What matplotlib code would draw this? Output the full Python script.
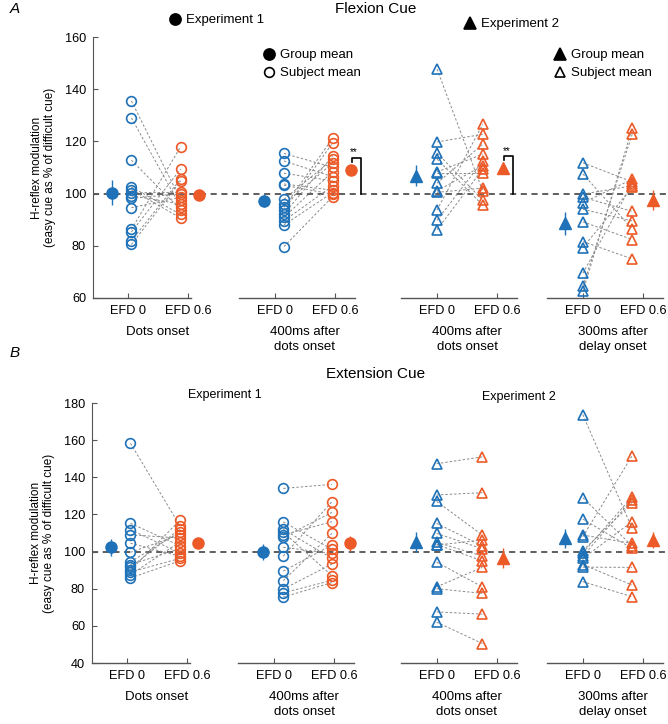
import matplotlib
matplotlib.use("Agg")
import matplotlib.pyplot as plt
from matplotlib.lines import Line2D

plt.rcParams["font.family"] = ["Liberation Sans", "DejaVu Sans"]

BLUE = "#1f72b8"
ORANGE = "#ec5a28"

# x layout: EFD 0 / EFD 0.6 in each group
group_offsets = [0.0, 2.45, 5.15, 7.58]
tick_labels = ["EFD 0", "EFD 0.6"]
group_names = ["Dots onset", "400ms after\ndots onset",
               "400ms after\ndots onset", "300ms after\ndelay onset"]
group_markers = ["o", "o", "^", "^"]
# horizontal placement of subject / group-mean markers relative to the ticks
subj_shift = [(0.06, -0.12), (0.15, -0.04), (0.0, -0.24), (0.0, -0.18)]
mean_shift = [(-0.26, 0.19), (-0.18, 0.26), (-0.35, 0.10), (-0.30, 0.17)]

# ---- Panel A: flexion cue (subject means, paired by index) ----
flex_efd0 = [
    [135.5, 129.0, 112.8, 102.5, 101.5, 100.3, 99.2, 98.2, 94.6, 86.3, 85.3, 82.0, 80.5],
    [115.4, 112.5, 107.8, 103.7, 103.2, 97.8, 96.0, 94.7, 93.7, 92.2, 90.9, 89.6, 88.0, 79.7],
    [147.7, 119.8, 115.6, 113.2, 108.3, 108.0, 104.0, 101.0, 100.5, 93.7, 89.8, 86.2],
    [111.8, 107.5, 99.8, 98.6, 96.5, 94.0, 89.2, 81.6, 79.3, 69.5, 64.5, 62.5],
]
flex_efd06 = [
    [97.6, 95.0, 93.8, 92.0, 90.6, 100.5, 96.0, 99.9, 98.6, 118.0, 109.4, 105.6, 104.9],
    [110.1, 106.5, 104.9, 101.3, 99.8, 113.1, 111.6, 121.2, 119.3, 114.4, 108.4, 102.9, 100.4, 98.8],
    [101.0, 122.7, 97.5, 95.6, 115.1, 108.0, 118.9, 110.7, 102.1, 126.5, 112.5, 109.3],
    [104.5, 86.5, 103.0, 93.2, 105.5, 89.5, 82.4, 75.0, 102.5, 103.8, 122.7, 125.0],
]
flex_mean0 = [100.3, 97.3, 106.9, 88.6]
flex_err0 = [4.8, 2.6, 4.0, 4.5]
flex_mean06 = [99.5, 109.2, 109.7, 97.6]
flex_err06 = [1.5, 1.2, 1.8, 3.8]
flex_sig = [False, True, True, False]

# ---- Panel B: extension cue ----
ext_efd0 = [
    [158.3, 115.2, 111.8, 109.0, 104.5, 99.6, 94.5, 93.0, 91.5, 90.0, 89.0, 87.5, 85.8],
    [134.0, 116.0, 112.0, 110.4, 109.0, 107.7, 102.3, 97.5, 89.5, 84.3, 79.8, 77.8, 75.5],
    [147.3, 130.5, 127.0, 115.2, 109.8, 105.0, 103.8, 103.5, 94.3, 81.0, 80.0, 67.5, 62.0],
    [173.8, 129.0, 117.5, 108.9, 108.0, 100.5, 99.3, 97.5, 96.3, 93.0, 91.6, 83.8],
]
ext_efd06 = [
    [114.0, 103.2, 99.2, 107.3, 97.5, 109.0, 110.5, 101.5, 112.2, 116.8, 96.3, 105.2, 95.0],
    [136.2, 101.2, 96.3, 87.0, 116.1, 121.1, 99.0, 126.9, 103.5, 109.8, 93.3, 84.5, 83.3],
    [151.0, 131.7, 108.9, 103.0, 101.5, 97.6, 95.0, 106.2, 81.0, 91.5, 77.5, 66.3, 50.5],
    [112.5, 103.0, 101.7, 104.4, 151.6, 126.0, 129.5, 128.0, 116.1, 82.0, 91.5, 75.7],
]
ext_mean0 = [102.3, 99.8, 105.3, 107.1]
ext_err0 = [4.5, 4.5, 5.5, 5.0]
ext_mean06 = [104.8, 104.4, 96.6, 106.2]
ext_err06 = [1.2, 4.0, 5.5, 4.2]
ext_sig = [False, False, False, False]


def fx(px):
    return px / 668.0


def fy(py):
    return 1 - py / 724.0


def draw_panel(ax, efd0, efd06, mean0, err0, mean06, err06, sig, ylim, yticks):
    xmin, xmax = -0.58, 8.98
    ax.set_xlim(xmin, xmax)
    ax.set_ylim(*ylim)
    ax.set_yticks(yticks)
    ax.axhline(100, color="#333333", lw=1.1, ls=(0, (4, 3)), zorder=1)

    for g, off in enumerate(group_offsets):
        mk = group_markers[g]
        xb, xo = off + subj_shift[g][0], off + 1 + subj_shift[g][1]
        mb, mo = off + mean_shift[g][0], off + 1 + mean_shift[g][1]
        for a, b in zip(efd0[g], efd06[g]):
            ax.plot([xb, xo], [a, b], color="#8a8a8a", lw=0.7,
                    ls=(0, (2.5, 2)), zorder=2)
        ax.plot([xb] * len(efd0[g]), efd0[g], ls="none", marker=mk, ms=7,
                mfc="none", mec=BLUE, mew=1.2, zorder=3)
        ax.plot([xo] * len(efd06[g]), efd06[g], ls="none", marker=mk, ms=7,
                mfc="none", mec=ORANGE, mew=1.2, zorder=3)
        ax.errorbar(mb, mean0[g], yerr=err0[g], fmt=mk, color=BLUE,
                    ms=8, elinewidth=1.0, capsize=0, zorder=4)
        ax.errorbar(mo, mean06[g], yerr=err06[g], fmt=mk, color=ORANGE,
                    ms=8, elinewidth=1.0, capsize=0, zorder=4)
        if sig[g]:
            top = mean06[g] + 4.6
            xl, xr = mo + 0.02, mo + 0.17
            ax.plot([xl, xl, xr, xr], [top - 1.6, top, top, 100],
                    color="black", lw=1.2, zorder=4)
            ax.text(xl + 0.04, top + 0.2, "**", ha="center",
                    va="bottom", fontsize=7)

        # bottom axis segment for the group
        left = xmin if g == 0 else off - 0.6
        right = off + 1.05 if g == 0 else off + 1.33
        ax.plot([left, right], [0, 0], color="#555555", lw=1.0,
                transform=ax.get_xaxis_transform(), clip_on=False)
        ax.annotate(group_names[g], xy=(off + 0.5, 0),
                    xycoords=("data", "axes fraction"), xytext=(0, -20),
                    textcoords="offset points", ha="center", va="top",
                    fontsize=9.5, linespacing=1.4)

    ticks = [o + d for o in group_offsets for d in (0, 1)]
    ax.set_xticks(ticks, tick_labels * len(group_offsets))
    ax.tick_params(direction="in", length=3.5, labelsize=9.2, color="#555555",
                   pad=5)
    for s in ("top", "right", "bottom"):
        ax.spines[s].set_visible(False)
    ax.spines["left"].set_color("#555555")
    ax.set_ylabel("H-reflex modulation\n(easy cue as % of difficult cue)",
                  fontsize=8.5, labelpad=6, linespacing=1.15)


fig = plt.figure(figsize=(6.68, 7.24), dpi=100)

axA = fig.add_axes([fx(93), fy(298), fx(667) - fx(93), fy(37) - fy(298)])
draw_panel(axA, flex_efd0, flex_efd06, flex_mean0, flex_err0, flex_mean06,
           flex_err06, flex_sig, (60, 160), [60, 80, 100, 120, 140, 160])

axB = fig.add_axes([fx(92), fy(663), fx(667) - fx(92), fy(403) - fy(663)])
draw_panel(axB, ext_efd0, ext_efd06, ext_mean0, ext_err0, ext_mean06,
           ext_err06, ext_sig, (40, 180), [40, 60, 80, 100, 120, 140, 160, 180])

# titles and panel letters
fig.text(fx(10), fy(9), "A", fontsize=11, style="italic", va="center")
fig.text(fx(10), fy(353), "B", fontsize=11, style="italic", va="center")
fig.text(fx(376), fy(9), "Flexion Cue", fontsize=11, ha="center", va="center")
fig.text(fx(376), fy(374), "Extension Cue", fontsize=11, ha="center", va="center")
fig.text(fx(225), fy(395), "Experiment 1", fontsize=9, ha="center", va="center")
fig.text(fx(519), fy(397), "Experiment 2", fontsize=9, ha="center", va="center")

# legends
leg_kw = dict(frameon=False, fontsize=9.5, handlelength=0.8, handletextpad=0.4,
              borderpad=0, borderaxespad=0, labelspacing=0.45,
              loc="upper left")


def mk_handle(marker, filled):
    return Line2D([], [], ls="none", marker=marker, ms=8 if filled else 7,
                  color="black", mfc="black" if filled else "none", mew=1.2)


legs = [
    ([mk_handle("o", True)], ["Experiment 1"], (fx(170), fy(14))),
    ([mk_handle("^", True)], ["Experiment 2"], (fx(465), fy(18))),
    ([mk_handle("o", True), mk_handle("o", False)],
     ["Group mean", "Subject mean"], (fx(264), fy(49))),
    ([mk_handle("^", True), mk_handle("^", False)],
     ["Group mean", "Subject mean"], (fx(555), fy(49))),
]
for handles, labels, anchor in legs:
    fig.legend(handles, labels, bbox_to_anchor=anchor, **leg_kw)

fig.savefig("out.png", dpi=100)
